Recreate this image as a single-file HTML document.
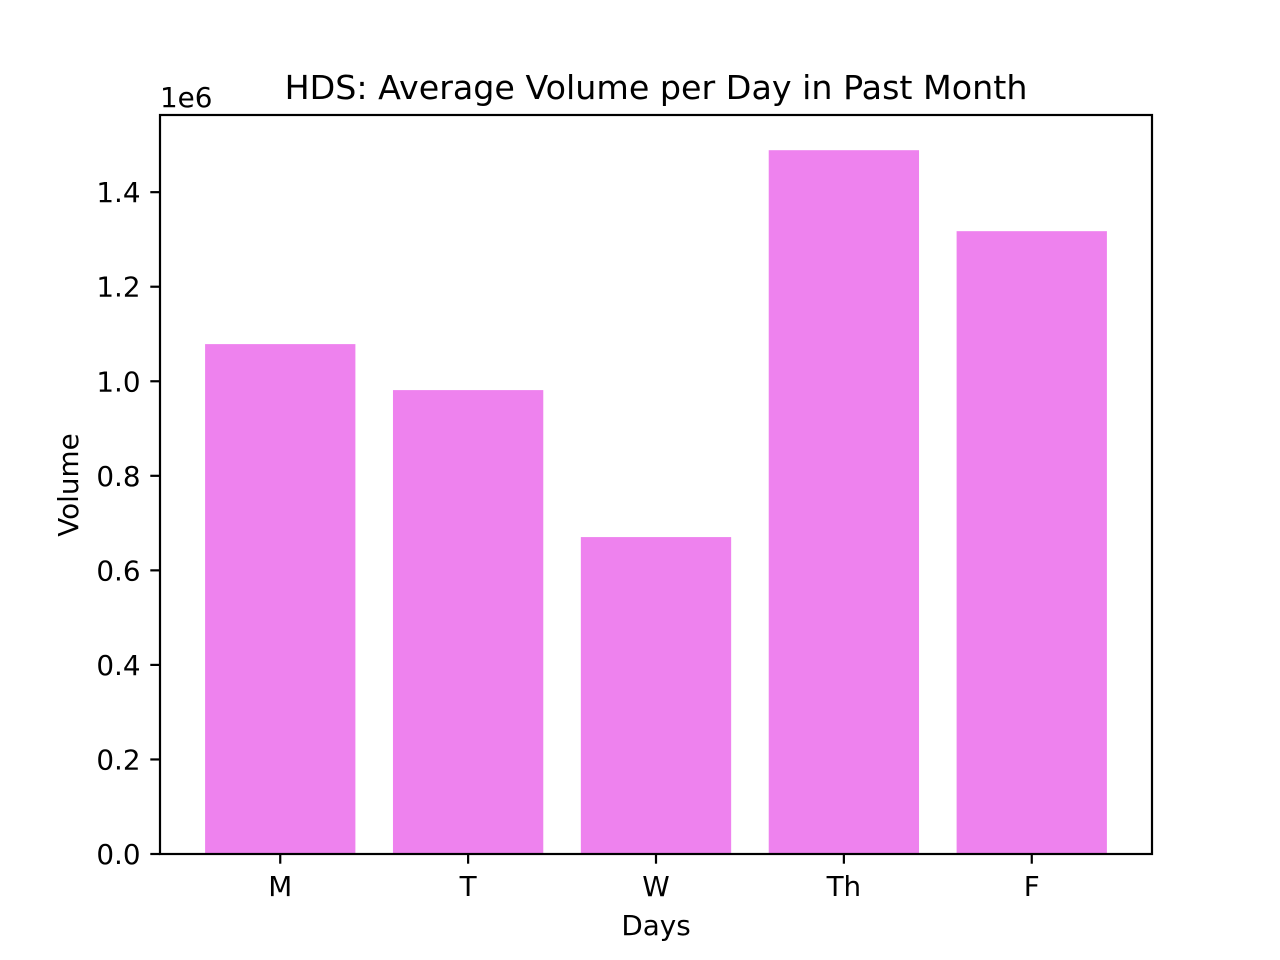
<!DOCTYPE html>
<html><head><meta charset="utf-8"><style>
html,body{margin:0;padding:0;background:#fff;}
svg{display:block;font-family:"DejaVu Sans","Liberation Sans",sans-serif;}
</style></head><body>
<svg id="chart" width="1280" height="960" viewBox="0 0 1280 960">
<rect width="1280" height="960" fill="#fff"/>
<g id="bars"></g>
<g id="axes"></g>
<rect x="160" y="115" width="992" height="739" fill="none" stroke="#000" stroke-width="2.2"/>
<text x="656" y="99" font-size="33.3" text-anchor="middle">HDS: Average Volume per Day in Past Month</text>
<text x="160" y="107" font-size="27.8">1e6</text>
<text x="656" y="935" font-size="27.8" text-anchor="middle">Days</text>
<text x="78" y="485" font-size="27.8" text-anchor="middle" transform="rotate(-90 78 485)">Volume</text>
</svg>
<script>
const categories = ["M","T","W","Th","F"];
const volumes = [1.0786, 0.9813, 0.6704, 1.4888, 1.3175];
const yTicks = [0, 0.2, 0.4, 0.6, 0.8, 1.0, 1.2, 1.4];
const yTickLabels = ["0.0","0.2","0.4","0.6","0.8","1.0","1.2","1.4"];

const NS = "http://www.w3.org/2000/svg";
const L = 160, R = 1152, T = 115, B = 854;
const yMax = Math.max(...volumes) * 1.05;
const xMin = -0.64, xMax = categories.length - 1 + 0.64;
const xScale = v => L + (v - xMin) / (xMax - xMin) * (R - L);
const yScale = v => B - v / yMax * (B - T);
const barW = 0.8;
const bars = document.getElementById('bars');
const axes = document.getElementById('axes');
function mk(tag, attrs, parent){const e=document.createElementNS(NS,tag);for(const k in attrs)e.setAttribute(k,attrs[k]);parent.appendChild(e);return e;}

volumes.forEach((v,i)=>{
  const r = mk('rect',{x:xScale(i-barW/2),y:yScale(v),width:xScale(i+barW/2)-xScale(i-barW/2),height:yScale(0)-yScale(v),fill:'#ee82ee'},bars);
  
  
  const t = mk('line',{x1:xScale(i),x2:xScale(i),y1:B,y2:B+9.7,stroke:'#000','stroke-width':2.2},axes);
  
  
  const lb = mk('text',{x:xScale(i),y:B+42,'font-size':27.8,'text-anchor':'middle'},axes);
  lb.textContent = categories[i];
  
  
});
yTicks.forEach((v,i)=>{
  const y = yScale(v);
  const t = mk('line',{x1:L-9.7,x2:L,y1:y,y2:y,stroke:'#000','stroke-width':2.2},axes);
  
  
  const lb = mk('text',{x:L-19.4,y:y+10,'font-size':27.8,'text-anchor':'end'},axes);
  lb.textContent = yTickLabels[i];
  
  
});
</script>
</body></html>
